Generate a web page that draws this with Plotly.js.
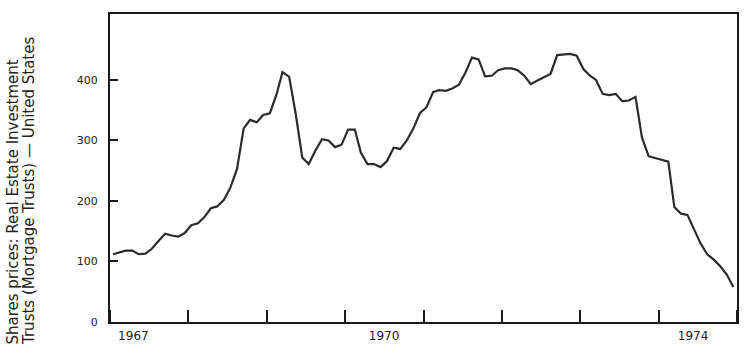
<!DOCTYPE html>
<html>
<head>
<meta charset="utf-8">
<script src="https://cdn.plot.ly/plotly-3.0.1.min.js"></script>
<style>html,body{margin:0;padding:0;background:#fff;}#chart{width:749px;height:355px;}</style>
</head>
<body>
<div id="chart"></div>
<script>
// Monthly share price index, Jan 1967 - Dec 1974
const startYear = 1967;
const values = [
  112,115,118,118,112,113,121,134,146,143,141,147,
  160,163,173,188,191,202,222,253,320,334,330,342,
  345,376,413,405,345,272,261,283,302,300,289,293,
  318,318,280,261,261,256,266,288,286,300,320,345,
  355,380,383,382,386,392,412,437,434,406,407,416,
  419,419,416,407,393,399,405,410,441,442,443,440,
  418,407,400,377,375,377,365,366,372,305,274,271,
  268,265,190,179,177,152,130,112,103,92,78,58
];
const yTicks = [0, 100, 200, 300, 400];
const xLabelDates = ['1967-04-20', '1970-07-01', '1974-06-10'];
const xLabelText = ['1967', '1970', '1974'];
const titleLines = ['Shares prices: Real Estate Investment', 'Trusts (Mortgage Trusts) \u2014 United States'];

const months = values.map((v, i) => {
  const y = startYear + Math.floor(i / 12);
  const m = (i % 12) + 1;
  return y + '-' + String(m).padStart(2, '0') + '-15';
});

const trace = {
  x: months, y: values, type: 'scatter', mode: 'lines',
  line: {color: '#2b2b2b', width: 2.2},
  hoverinfo: 'skip'
};

const plotW = 749 - 110 - 12, plotH = 355 - 14 - 33;
const titleX = [12, 29];
const annotations = titleLines.map((t, i) => ({
  xref: 'paper', yref: 'paper',
  x: (titleX[i] - 110) / plotW, y: (322 - 347) / plotH,
  xanchor: 'center', yanchor: 'bottom',
  text: t, textangle: -90, showarrow: false,
  font: {size: 15, color: '#222', family: 'DejaVu Sans, sans-serif'}
}));

const layout = {
  width: 749, height: 355,
  margin: {l: 110, r: 12, t: 14, b: 33},
  paper_bgcolor: '#ffffff', plot_bgcolor: '#ffffff',
  showlegend: false,
  font: {family: 'DejaVu Sans, sans-serif', color: '#222'},
  xaxis: {
    type: 'date',
    range: ['1967-01-01', '1975-01-01'],
    tickmode: 'array', tickvals: xLabelDates, ticktext: xLabelText,
    ticks: 'outside', ticklen: 0, tickcolor: 'rgba(0,0,0,0)',
    tickfont: {size: 12, color: '#222'},
    ticklabelstandoff: 2,
    showgrid: false, zeroline: false,
    showline: true, linecolor: '#1a1a1a', linewidth: 2, mirror: true,
    minor: {tickmode: 'linear', tick0: '1967-01-01', dtick: 'M12', ticks: 'inside', ticklen: 12, tickwidth: 2, tickcolor: '#1a1a1a', showgrid: false}
  },
  yaxis: {
    range: [0, 509],
    tickmode: 'array', tickvals: yTicks, ticktext: yTicks.map(String),
    ticks: 'inside', ticklen: 8, tickwidth: 2, tickcolor: '#1a1a1a',
    tickfont: {size: 11, color: '#222'},
    ticklabelstandoff: 8,
    showgrid: false, zeroline: false,
    showline: true, linecolor: '#1a1a1a', linewidth: 2, mirror: true
  },
  annotations: annotations
};

Plotly.newPlot('chart', [trace], layout, {displayModeBar: false, staticPlot: true});
</script>
</body>
</html>
